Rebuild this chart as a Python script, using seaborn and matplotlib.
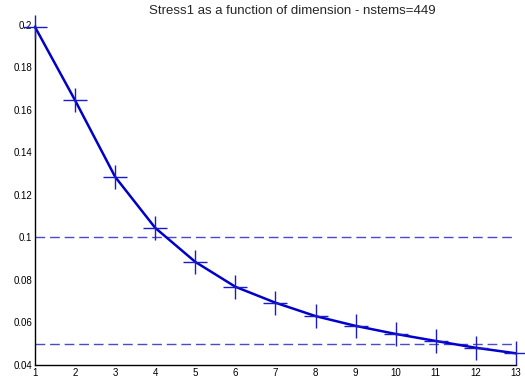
import matplotlib
matplotlib.use("Agg")
import matplotlib.pyplot as plt
import seaborn as sns
import pandas as pd

dimensions = [1, 2, 3, 4, 5, 6, 7, 8, 9, 10, 11, 12, 13]
stress = [0.199, 0.1645, 0.1285, 0.1045, 0.0885, 0.0768, 0.0693, 0.0630, 0.0584, 0.0546, 0.0513, 0.0481, 0.0455]
thresholds = [0.1, 0.05]
title = "Stress1 as a function of dimension - nstems=449"

sns.set_style("white")
plt.rcParams['font.family'] = ['Liberation Sans', 'DejaVu Sans']

df = pd.DataFrame({"dim": dimensions, "stress": stress})

fig = plt.figure(figsize=(5.25, 3.83), dpi=100)
ax = fig.add_axes([0.0667, 0.047, 0.916, 0.888])

for t in thresholds:
    ax.plot([dimensions[0], dimensions[-1]], [t, t], color="#4a4acc",
            linestyle=(0, (7, 3.5)), linewidth=1.0, zorder=1)

sns.lineplot(data=df, x="dim", y="stress", ax=ax, color="#0000cc",
             linewidth=1.8, marker="+", markersize=17, markeredgewidth=1.0,
             markeredgecolor="#1a1acc", zorder=3, clip_on=False)

ax.set_xlim(1, 13)
ax.set_ylim(0.04, 0.2)
ax.set_xticks(dimensions)
ax.set_xticklabels([str(d) for d in dimensions])
yt = [0.04, 0.06, 0.08, 0.1, 0.12, 0.14, 0.16, 0.18, 0.2]
ax.set_yticks(yt)
ax.set_yticklabels(["0.04", "0.06", "0.08", "0.1", "0.12", "0.14", "0.16", "0.18", "0.2"])
ax.set_xlabel("")
ax.set_ylabel("")
ax.tick_params(direction="in", length=4, width=0.8, labelsize=7, colors="black", pad=2)
for s in ["top", "right"]:
    ax.spines[s].set_visible(False)
for s in ["left", "bottom"]:
    ax.spines[s].set_color("black")
    ax.spines[s].set_linewidth(1.0)
ax.set_title(title, fontsize=9.5, pad=8, x=0.535)

fig.savefig("out.png", dpi=100)
